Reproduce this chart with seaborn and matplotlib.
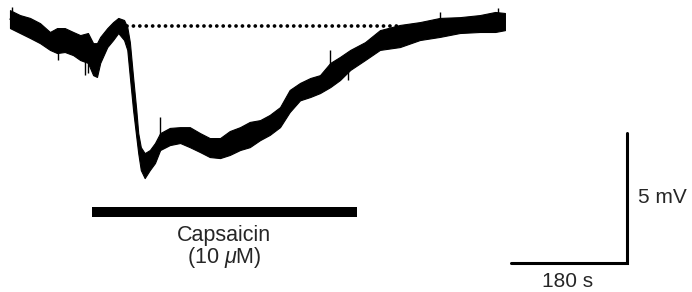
import numpy as np
import pandas as pd
import matplotlib
matplotlib.use("Agg")
import matplotlib.pyplot as plt
import seaborn as sns

# membrane potential trace: time (s), upper / lower edge of the noisy trace (mV)
time_s = [0, 15.5, 31, 46.6, 62, 73, 85, 98, 109, 121, 129, 135, 140, 151, 160, 168, 177, 182,
          186, 191, 196, 199, 203, 209, 217, 225, 233, 248, 264, 279, 295, 310, 326, 341, 357,
          372, 388, 403, 419, 434, 450, 466, 481, 497, 512, 528, 551, 574, 605, 636, 667, 698,
          729, 753, 768]
upper_mv = [0.60, 0.41, 0.30, 0.10, -0.24, -0.09, -0.09, -0.24, -0.36, -0.28, -0.67, -0.67, -0.43,
            -0.09, 0.14, 0.30, 0.22, -0.05, -0.63, -1.97, -3.24, -4.13, -4.67, -4.90, -4.78, -4.51,
            -4.13, -3.93, -3.90, -3.90, -4.13, -4.32, -4.32, -4.05, -3.90, -3.70, -3.63, -3.43,
            -3.13, -2.47, -2.20, -2.01, -1.90, -1.43, -1.20, -0.93, -0.63, -0.17, 0.03, 0.14,
            0.30, 0.33, 0.41, 0.53, 0.49]
lower_mv = [-0.09, -0.28, -0.47, -0.67, -0.93, -1.05, -1.01, -1.13, -1.32, -1.43, -1.90, -1.97,
            -1.43, -0.82, -0.55, -0.28, -0.55, -0.93, -1.97, -3.24, -4.28, -4.90, -5.55, -5.86,
            -5.55, -5.28, -4.78, -4.59, -4.51, -4.67, -4.86, -5.05, -5.09, -4.97, -4.78, -4.67,
            -4.40, -4.20, -3.90, -3.32, -2.87, -2.74, -2.59, -2.36, -2.09, -1.70, -1.32, -0.93,
            -0.82, -0.55, -0.43, -0.28, -0.24, -0.24, -0.17]

# single spikes sticking out of the trace
spike_t = [3, 74, 116, 121, 233, 497, 525, 667, 757]
spike_from = [0.30, -1.00, -1.30, -1.30, -4.20, -1.60, -1.50, 0.20, 0.40]
spike_to = [0.72, -1.32, -1.90, -1.82, -3.51, -0.93, -2.09, 0.53, 0.68]

# dotted baseline, capsaicin bar and scale bars
baseline_t = [182, 605]
baseline_mv = 0.0
drug_t = [127, 538]
drug_mv = -7.17
drug_label = "Capsaicin\n(10 $\\mu$M)"
scale_t = [777, 957]
scale_mv = [-9.13, -4.11]
scale_t_label = "180 s"
scale_v_label = "5 mV"

sns.set_style("white")
plt.rcParams["font.family"] = ["Liberation Sans", "DejaVu Sans"]
plt.rcParams["mathtext.fontset"] = "custom"
plt.rcParams["mathtext.it"] = "Liberation Sans:italic"
plt.rcParams["mathtext.rm"] = "Liberation Sans"

df = pd.DataFrame({"t": time_s + time_s, "mv": upper_mv + lower_mv})

fig = plt.figure(figsize=(6.92, 2.92), dpi=100)
ax = fig.add_axes([0, 0, 1, 1])

sns.lineplot(data=df, x="t", y="mv", estimator="mean", errorbar=("pi", 100),
             color="black", linewidth=1.0,
             err_kws={"alpha": 1, "linewidth": 0.8, "edgecolor": "black"}, ax=ax)
ax.vlines(spike_t, spike_from, spike_to, color="black", linewidth=1.0)

ax.plot(baseline_t, [baseline_mv, baseline_mv], color="black", linewidth=2.7,
        linestyle=(0, (0.01, 1.7)), dash_capstyle="round")

ax.plot(drug_t, [drug_mv, drug_mv], color="black", linewidth=7.2, solid_capstyle="butt")
mid = (drug_t[0] + drug_t[1]) / 2
ax.text(mid, -8.53, drug_label, ha="center", va="center", fontsize=15.5,
        linespacing=0.95, multialignment="center")

ax.plot([scale_t[0], scale_t[1], scale_t[1]], [scale_mv[0], scale_mv[0], scale_mv[1]],
        color="black", linewidth=2.2, solid_joinstyle="miter")
ax.text(scale_t[1] + 17, (scale_mv[0] + scale_mv[1]) / 2, scale_v_label,
        ha="left", va="center", fontsize=15)
ax.text((scale_t[0] + scale_t[1]) / 2 - 2, -9.84, scale_t_label, ha="center", va="center",
        fontsize=15)

ax.set_xlim(-15.5, 1058.3)
ax.set_ylim(-10.24, 0.99)
ax.axis("off")

fig.savefig("out.png", dpi=100)
